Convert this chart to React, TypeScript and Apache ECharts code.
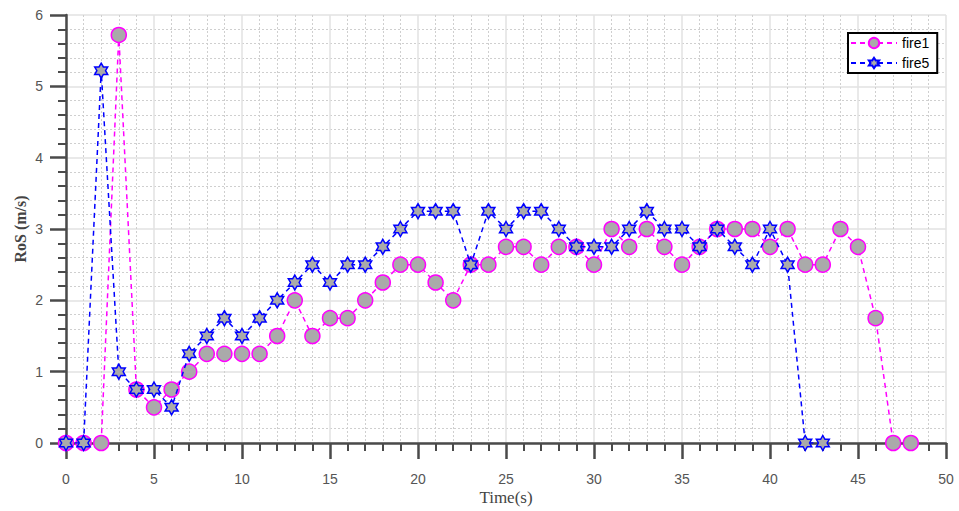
import React, { useEffect, useRef } from "react";
import * as echarts from "echarts";

const fire1Values = [
  0, 0, 0, 5.72, 0.75, 0.5, 0.75, 1.0, 1.25, 1.25,
  1.25, 1.25, 1.5, 2.0, 1.5, 1.75, 1.75, 2.0, 2.25, 2.5,
  2.5, 2.25, 2.0, 2.5, 2.5, 2.75, 2.75, 2.5, 2.75, 2.75,
  2.5, 3.0, 2.75, 3.0, 2.75, 2.5, 2.75, 3.0, 3.0, 3.0,
  2.75, 3.0, 2.5, 2.5, 3.0, 2.75, 1.75, 0, 0,
];
const fire5Values = [
  0, 0, 5.22, 1.0, 0.75, 0.75, 0.5, 1.25, 1.5, 1.75,
  1.5, 1.75, 2.0, 2.25, 2.5, 2.25, 2.5, 2.5, 2.75, 3.0,
  3.25, 3.25, 3.25, 2.5, 3.25, 3.0, 3.25, 3.25, 3.0, 2.75,
  2.75, 2.75, 3.0, 3.25, 3.0, 3.0, 2.75, 3.0, 2.75, 2.5,
  3.0, 2.5, 0, 0,
];
const seriesNames = ["fire1", "fire5"];
const xTicks = { min: 0, max: 50, interval: 5 };
const yTicks = { min: 0, max: 6, interval: 1 };

const hexagram =
  "path://M50 0 L64.43 25 L93.3 25 L78.87 50 L93.3 75 L64.43 75 L50 100 L35.57 75 L6.7 75 L21.13 50 L6.7 25 L35.57 25 Z";

export default function App() {
  const ref = useRef<HTMLDivElement>(null);
  useEffect(() => {
    if (!ref.current) return;
    const chart = echarts.init(ref.current, null, { renderer: "svg" });
    const axisCommon = {
      axisLine: { show: true, lineStyle: { color: "#4a4a4a", width: 2.5 } },
      axisTick: { show: true, inside: false, length: 16, lineStyle: { color: "#4a4a4a", width: 2.5 } },
      minorTick: { show: true, splitNumber: 5, length: 8, lineStyle: { color: "#4a4a4a", width: 2 } },
      splitLine: { show: true, lineStyle: { color: "#e2e2e2", width: 1.5 } },
      minorSplitLine: { show: true, lineStyle: { color: "#cfcfcf", width: 1, type: [2, 2] } },
      axisLabel: { color: "#555555", fontSize: 14, fontFamily: "Liberation Sans, Arial, sans-serif" },
      nameMoveOverlap: false,
    };
    chart.setOption({
      animation: false,
      backgroundColor: "#ffffff",
      grid: { left: 66, right: 13, top: 15, bottom: 68, containLabel: false, outerBoundsMode: "none" },
      legend: {
        data: seriesNames,
        left: 848,
        top: 33,
        orient: "vertical",
        itemWidth: 46,
        itemHeight: 13,
        itemGap: 6,
        padding: [3, 8, 3, 2],
        borderColor: "#000000",
        borderWidth: 2,
        backgroundColor: "#ffffff",
        textStyle: { fontSize: 14, color: "#000000", fontFamily: "Liberation Sans, Arial, sans-serif" },
      },
      xAxis: {
        type: "value",
        min: xTicks.min,
        max: xTicks.max,
        interval: xTicks.interval,
        ...axisCommon,
        axisLabel: { ...axisCommon.axisLabel, margin: 29 },
        name: "Time(s)",
        nameLocation: "middle",
        nameGap: 46,
        nameTextStyle: { fontSize: 17, color: "#444444", fontFamily: "Liberation Serif, Times New Roman, serif" },
      },
      yAxis: {
        type: "value",
        min: yTicks.min,
        max: yTicks.max,
        interval: yTicks.interval,
        ...axisCommon,
        axisLabel: { ...axisCommon.axisLabel, margin: 23 },
        name: "RoS (m/s)",
        nameLocation: "middle",
        nameGap: 38,
        nameTextStyle: {
          fontSize: 16,
          fontWeight: "bold",
          color: "#444444",
          fontFamily: "Liberation Serif, Times New Roman, serif",
        },
      },
      series: [
        {
          name: seriesNames[0],
          type: "line",
          data: fire1Values.map((v, i) => [i, v]),
          symbol: "circle",
          symbolSize: 15,
          showAllSymbol: true,
          lineStyle: { color: "#ff00ff", width: 1.5, type: [5, 4] },
          itemStyle: { color: "#aaaaaa", borderColor: "#ff00ff", borderWidth: 1.5 },
          z: 2,
        },
        {
          name: seriesNames[1],
          type: "line",
          data: fire5Values.map((v, i) => [i, v]),
          symbol: hexagram,
          symbolSize: 15,
          symbolKeepAspect: true,
          showAllSymbol: true,
          lineStyle: { color: "#0000ff", width: 1.5, type: [5, 4] },
          itemStyle: { color: "#aaaaaa", borderColor: "#0000ff", borderWidth: 1.5 },
          z: 3,
        },
      ],
    });
    return () => chart.dispose();
  }, []);
  return <div ref={ref} style={{ width: 959, height: 511, position: "absolute", left: 0, top: 0 }} />;
}
